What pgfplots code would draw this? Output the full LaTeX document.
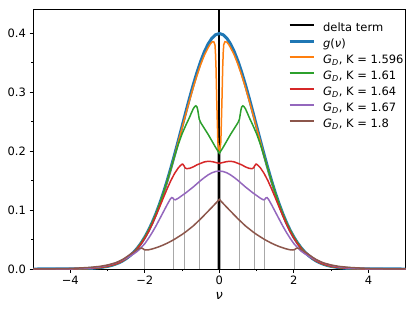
\documentclass[border=0pt]{standalone}
\usepackage{pgfplots}
\pgfplotsset{compat=1.18}
\usepackage{fontspec}
\setmainfont{DejaVu Sans}
\definecolor{c0}{HTML}{1F77B4}
\definecolor{c1}{HTML}{FF7F0E}
\definecolor{c2}{HTML}{2CA02C}
\definecolor{c3}{HTML}{D62728}
\definecolor{c4}{HTML}{9467BD}
\definecolor{c5}{HTML}{8C564B}
\definecolor{stem}{HTML}{A8A8A8}
\newcommand{\GD}{\textit{G}\textsubscript{\textit{D}}}
\begin{document}
\begin{tikzpicture}
\begin{axis}[
  at={(0,0)}, anchor=south west,
  scale only axis, width=372.7pt, height=259.7pt,
  xmin=-5, xmax=5, ymin=0, ymax=0.44,
  axis line style={line width=0.8pt},
  tick align=outside, tick pos=left,
  major tick length=3.5pt, minor tick length=2pt,
  every tick/.style={black, line width=0.8pt},
  minor tick style={line width=0.6pt},
  xtick={-4,-2,0,2,4}, xticklabels={−4,−2,0,2,4},
  minor xtick={-3,-1,1,3},
  ytick={0,0.1,0.2,0.3,0.4}, yticklabels={0.0,0.1,0.2,0.3,0.4},
  minor ytick={0.05,0.15,0.25,0.35},
  ticklabel style={font=\fontsize{11.5}{13}\selectfont},
  xlabel={\textit{ν}}, xlabel style={font=\fontsize{13}{15}\selectfont, yshift=-1pt},
  legend style={at={(1,1)}, anchor=north east, xshift=-2pt, yshift=-13pt,
    draw=none, fill=none, inner sep=0pt,
    font=\fontsize{11.5}{13}\selectfont,
    nodes={inner sep=0pt, text height=9pt, text depth=3pt},
    row sep=4pt,
    /tikz/every odd column/.append style={column sep=8pt}},
  legend cell align=left,
  legend image code/.code={\draw[#1] (0pt,3.5pt) -- (24pt,3.5pt);},
]
\addplot[color=black, line width=1.8pt] coordinates {(0,0) (0,0.5)};
\addlegendentry{delta term}

\addplot[ycomb, color=stem, line width=0.8pt, forget plot] coordinates {
(-0.04,0.215) (0.04,0.215) (-0.54,0.254) (0.54,0.254) (-0.94,0.173) (0.94,0.173)
(-1.22,0.118) (1.22,0.118) (-2.02,0.033) (2.02,0.033)};

\addplot[color=c0, line width=3pt] coordinates {
(-5.0,0.0) (-4.5,0.00002) (-4.0,0.00013) (-3.8,0.00029) (-3.6,0.00061) (-3.4,0.00123) (-3.2,0.00238) (-3.0,0.00443)
(-2.9,0.00595) (-2.8,0.00792) (-2.7,0.01042) (-2.6,0.01358) (-2.5,0.01753) (-2.4,0.02239) (-2.3,0.02833) (-2.2,0.03547)
(-2.1,0.04398) (-2.0,0.05399) (-1.9,0.06562) (-1.8,0.07895) (-1.7,0.09405) (-1.6,0.11092) (-1.5,0.12952) (-1.4,0.14973)
(-1.3,0.17137) (-1.2,0.19419) (-1.1,0.21785) (-1.0,0.24197) (-0.9,0.26609) (-0.8,0.28969) (-0.7,0.31225) (-0.6,0.33322)
(-0.5,0.35207) (-0.4,0.36827) (-0.3,0.38139) (-0.2,0.39104) (-0.1,0.39695) (0,0.39894)
(0.1,0.39695) (0.2,0.39104) (0.3,0.38139) (0.4,0.36827) (0.5,0.35207) (0.6,0.33322) (0.7,0.31225) (0.8,0.28969)
(0.9,0.26609) (1.0,0.24197) (1.1,0.21785) (1.2,0.19419) (1.3,0.17137) (1.4,0.14973) (1.5,0.12952) (1.6,0.11092)
(1.7,0.09405) (1.8,0.07895) (1.9,0.06562) (2.0,0.05399) (2.1,0.04398) (2.2,0.03547) (2.3,0.02833) (2.4,0.02239)
(2.5,0.01753) (2.6,0.01358) (2.7,0.01042) (2.8,0.00792) (2.9,0.00595) (3.0,0.00443) (3.2,0.00238) (3.4,0.00123)
(3.6,0.00061) (3.8,0.00029) (4.0,0.00013) (4.5,0.00002) (5.0,0.0)};
\addlegendentry{\textit{g}(\textit{ν})}

\addplot[color=c1, line width=1.5pt] coordinates {
(-5.0,0.0) (-4.5,0.00002) (-4.0,0.00013) (-3.8,0.0003) (-3.6,0.0006) (-3.4,0.0012) (-3.2,0.0024) (-3.0,0.0044)
(-2.9,0.0060) (-2.8,0.0079) (-2.7,0.0104) (-2.6,0.0136) (-2.5,0.0175) (-2.4,0.0224) (-2.3,0.0283) (-2.2,0.0354)
(-2.1,0.0439) (-2.0,0.0538) (-1.9,0.0653) (-1.8,0.0784) (-1.7,0.0932) (-1.6,0.1098) (-1.5,0.1282) (-1.4,0.1482)
(-1.3,0.1695) (-1.2,0.1920) (-1.1,0.2155) (-1.0,0.2390) (-0.9,0.2625) (-0.8,0.2855) (-0.7,0.3075) (-0.6,0.3280)
(-0.5,0.3465) (-0.4,0.3625) (-0.3,0.3750) (-0.25,0.3805) (-0.2,0.3845) (-0.15,0.3850) (-0.118,0.380) (-0.105,0.368)
(-0.09,0.342) (-0.07,0.286) (-0.055,0.25) (-0.046,0.230) (-0.04,0.215) (-0.02,0.205) (0,0.200)
(0.02,0.205) (0.04,0.215) (0.046,0.230) (0.055,0.25) (0.07,0.286) (0.09,0.342) (0.105,0.368) (0.118,0.380)
(0.15,0.3850) (0.2,0.3845) (0.25,0.3805) (0.3,0.3750) (0.4,0.3625) (0.5,0.3465) (0.6,0.3280) (0.7,0.3075)
(0.8,0.2855) (0.9,0.2625) (1.0,0.2390) (1.1,0.2155) (1.2,0.1920) (1.3,0.1695) (1.4,0.1482) (1.5,0.1282)
(1.6,0.1098) (1.7,0.0932) (1.8,0.0784) (1.9,0.0653) (2.0,0.0538) (2.1,0.0439) (2.2,0.0354) (2.3,0.0283)
(2.4,0.0224) (2.5,0.0175) (2.6,0.0136) (2.7,0.0104) (2.8,0.0079) (2.9,0.0060) (3.0,0.0044) (3.2,0.0024)
(3.4,0.0012) (3.6,0.0006) (3.8,0.0003) (4.0,0.00013) (4.5,0.00002) (5.0,0.0)};
\addlegendentry{\GD, K = 1.596}

\addplot[color=c2, line width=1.5pt] coordinates {
(-5.0,0.0) (-4.5,0.00002) (-4.0,0.00013) (-3.8,0.0003) (-3.6,0.0006) (-3.4,0.0012) (-3.2,0.0024) (-3.0,0.0044)
(-2.8,0.0079) (-2.6,0.0136) (-2.5,0.0175) (-2.4,0.0224) (-2.3,0.0283) (-2.2,0.0354) (-2.1,0.0439) (-2.0,0.0539)
(-1.9,0.0655) (-1.8,0.0787) (-1.7,0.0937) (-1.6,0.1105) (-1.5,0.1290) (-1.4,0.1490) (-1.3,0.1700) (-1.2,0.1915)
(-1.1,0.2115) (-1.0,0.2290) (-0.9,0.2435) (-0.8,0.2570) (-0.75,0.2645) (-0.7,0.2715) (-0.66,0.2752) (-0.63,0.2765)
(-0.6,0.2745) (-0.58,0.2695) (-0.56,0.2620) (-0.54,0.2540) (-0.5,0.2480) (-0.4,0.2380) (-0.3,0.2280) (-0.2,0.2170)
(-0.1,0.2060) (0,0.1960)
(0.1,0.2060) (0.2,0.2170) (0.3,0.2280) (0.4,0.2380) (0.5,0.2480) (0.54,0.2540) (0.56,0.2620) (0.58,0.2695)
(0.6,0.2745) (0.63,0.2765) (0.66,0.2752) (0.7,0.2715) (0.75,0.2645) (0.8,0.2570) (0.9,0.2435) (1.0,0.2290)
(1.1,0.2115) (1.2,0.1915) (1.3,0.1700) (1.4,0.1490) (1.5,0.1290) (1.6,0.1105) (1.7,0.0937) (1.8,0.0787)
(1.9,0.0655) (2.0,0.0539) (2.1,0.0439) (2.2,0.0354) (2.3,0.0283) (2.4,0.0224) (2.5,0.0175) (2.6,0.0136)
(2.8,0.0079) (3.0,0.0044) (3.2,0.0024) (3.4,0.0012) (3.6,0.0006) (3.8,0.0003) (4.0,0.00013) (4.5,0.00002) (5.0,0.0)};
\addlegendentry{\GD, K = 1.61}

\addplot[color=c3, line width=1.5pt] coordinates {
(-5.0,0.0) (-4.5,0.00002) (-4.0,0.00017) (-3.6,0.0007) (-3.4,0.0014) (-3.2,0.0026) (-3.0,0.0047) (-2.8,0.0082)
(-2.7,0.0107) (-2.6,0.0138) (-2.5,0.0176) (-2.4,0.0222) (-2.3,0.0278) (-2.2,0.0345) (-2.1,0.0425) (-2.0,0.0520)
(-1.9,0.0630) (-1.8,0.0760) (-1.7,0.0905) (-1.6,0.1055) (-1.5,0.1210) (-1.4,0.1360) (-1.3,0.1500) (-1.2,0.1620)
(-1.1,0.1715) (-1.04,0.1755) (-1.0,0.1775) (-0.98,0.1775) (-0.95,0.1750) (-0.92,0.1715) (-0.88,0.1700) (-0.8,0.1705)
(-0.7,0.1730) (-0.6,0.1765) (-0.5,0.1790) (-0.4,0.1815) (-0.3,0.1825) (-0.2,0.1820) (-0.1,0.1805) (0,0.1790)
(0.1,0.1805) (0.2,0.1820) (0.3,0.1825) (0.4,0.1815) (0.5,0.1790) (0.6,0.1765) (0.7,0.1730) (0.8,0.1705)
(0.88,0.1700) (0.92,0.1715) (0.95,0.1750) (0.98,0.1775) (1.0,0.1775) (1.04,0.1755) (1.1,0.1715) (1.2,0.1620)
(1.3,0.1500) (1.4,0.1360) (1.5,0.1210) (1.6,0.1055) (1.7,0.0905) (1.8,0.0760) (1.9,0.0630) (2.0,0.0520)
(2.1,0.0425) (2.2,0.0345) (2.3,0.0278) (2.4,0.0222) (2.5,0.0176) (2.6,0.0138) (2.7,0.0107) (2.8,0.0082)
(3.0,0.0047) (3.2,0.0026) (3.4,0.0014) (3.6,0.0007) (4.0,0.00017) (4.5,0.00002) (5.0,0.0)};
\addlegendentry{\GD, K = 1.64}

\addplot[color=c4, line width=1.5pt] coordinates {
(-5.0,0.0) (-4.5,0.00005) (-4.0,0.0003) (-3.8,0.0006) (-3.6,0.0011) (-3.4,0.0019) (-3.2,0.0036) (-3.0,0.0060)
(-2.8,0.0098) (-2.6,0.0150) (-2.5,0.0182) (-2.4,0.0215) (-2.3,0.0255) (-2.2,0.0300) (-2.1,0.0360) (-2.0,0.0430)
(-1.9,0.0520) (-1.8,0.0620) (-1.7,0.0730) (-1.6,0.0850) (-1.5,0.0970) (-1.4,0.1090) (-1.32,0.1180) (-1.28,0.1210)
(-1.25,0.1205) (-1.22,0.1180) (-1.18,0.1172) (-1.1,0.1200) (-1.0,0.1245) (-0.9,0.1290) (-0.8,0.1340) (-0.7,0.1390)
(-0.6,0.1445) (-0.5,0.1500) (-0.4,0.1550) (-0.3,0.1595) (-0.2,0.1630) (-0.1,0.1652) (0,0.1660)
(0.1,0.1652) (0.2,0.1630) (0.3,0.1595) (0.4,0.1550) (0.5,0.1500) (0.6,0.1445) (0.7,0.1390) (0.8,0.1340)
(0.9,0.1290) (1.0,0.1245) (1.1,0.1200) (1.18,0.1172) (1.22,0.1180) (1.25,0.1205) (1.28,0.1210) (1.32,0.1180)
(1.4,0.1090) (1.5,0.0970) (1.6,0.0850) (1.7,0.0730) (1.8,0.0620) (1.9,0.0520) (2.0,0.0430) (2.1,0.0360)
(2.2,0.0300) (2.3,0.0255) (2.4,0.0215) (2.5,0.0182) (2.6,0.0150) (2.8,0.0098) (3.0,0.0060) (3.2,0.0036)
(3.4,0.0019) (3.6,0.0011) (3.8,0.0006) (4.0,0.0003) (4.5,0.00005) (5.0,0.0)};
\addlegendentry{\GD, K = 1.67}

\addplot[color=c5, line width=1.5pt] coordinates {
(-5.0,0.0001) (-4.5,0.0003) (-4.0,0.0009) (-3.5,0.0026) (-3.2,0.0045) (-3.0,0.0068) (-2.8,0.0102) (-2.7,0.0128)
(-2.6,0.0160) (-2.5,0.0200) (-2.4,0.0245) (-2.3,0.0290) (-2.2,0.0330) (-2.15,0.0348) (-2.1,0.0354) (-2.06,0.0348)
(-2.02,0.0330) (-1.97,0.0322) (-1.9,0.0325) (-1.8,0.0340) (-1.7,0.0360) (-1.6,0.0382) (-1.5,0.0408) (-1.4,0.0437)
(-1.3,0.0470) (-1.2,0.0505) (-1.1,0.0545) (-1.0,0.0585) (-0.9,0.0630) (-0.8,0.0680) (-0.7,0.0730) (-0.6,0.0790)
(-0.5,0.0850) (-0.4,0.0915) (-0.3,0.0980) (-0.2,0.1045) (-0.1,0.1112) (0,0.1180)
(0.1,0.1112) (0.2,0.1045) (0.3,0.0980) (0.4,0.0915) (0.5,0.0850) (0.6,0.0790) (0.7,0.0730) (0.8,0.0680)
(0.9,0.0630) (1.0,0.0585) (1.1,0.0545) (1.2,0.0505) (1.3,0.0470) (1.4,0.0437) (1.5,0.0408) (1.6,0.0382)
(1.7,0.0360) (1.8,0.0340) (1.9,0.0325) (1.97,0.0322) (2.02,0.0330) (2.06,0.0348) (2.1,0.0354) (2.15,0.0348)
(2.2,0.0330) (2.3,0.0290) (2.4,0.0245) (2.5,0.0200) (2.6,0.0160) (2.7,0.0128) (2.8,0.0102) (3.0,0.0068)
(3.2,0.0045) (3.5,0.0026) (4.0,0.0009) (4.5,0.0003) (5.0,0.0001)};
\addlegendentry{\GD, K = 1.8}
\end{axis}
\path (-33pt,-42pt) rectangle (382pt,269pt);
\end{tikzpicture}
\end{document}
